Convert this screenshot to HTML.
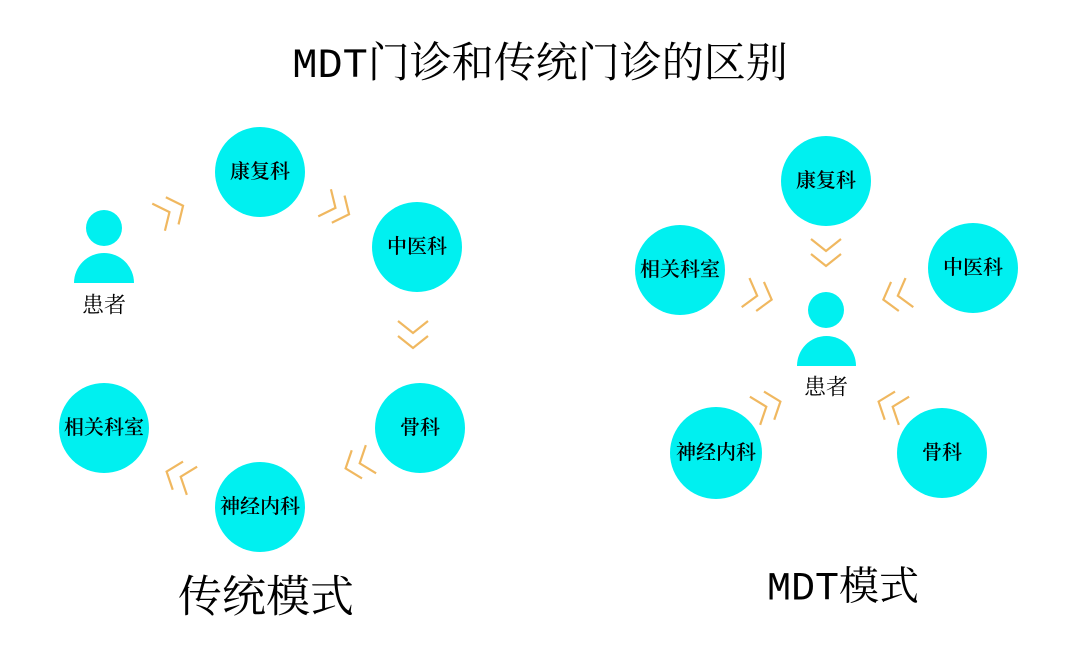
<!DOCTYPE html>
<html><head><meta charset="utf-8"><style>
html,body{margin:0;padding:0;background:#fff;}
svg{display:block}
text{font-family:"Liberation Serif","Noto Serif CJK SC",serif;fill:#000;text-anchor:middle;dominant-baseline:central}
.n{font-size:20px;font-weight:600}
</style></head><body>
<svg width="1080" height="661" viewBox="0 0 1080 661">
<defs>
<g id="ch" fill="none" stroke="#F0B860" stroke-width="2.2">
<polyline points="-17,-15 -5,0 -17,15"/>
<polyline points="-2,-15 10,0 -2,15"/>
</g>
</defs>
<text x="540" y="66" style="font-size:42px;font-family:'Liberation Mono','Noto Serif CJK SC',serif">MDT门诊和传统门诊的区别</text>

<g fill="#00F0F0">
<circle cx="260" cy="172" r="45"/><circle cx="417" cy="247" r="45"/>
<circle cx="420" cy="428" r="45"/><circle cx="260" cy="507" r="45"/>
<circle cx="104" cy="428" r="45"/>
<circle cx="826" cy="181" r="45"/><circle cx="680" cy="270" r="45"/>
<circle cx="973" cy="268" r="45"/><circle cx="716" cy="453" r="46"/>
<circle cx="942" cy="453" r="45"/>
<circle cx="104" cy="228" r="18"/><path d="M74,283 A30,30 0 0 1 134,283 Z"/>
<circle cx="826" cy="310" r="18"/><path d="M797,366 A29.5,30 0 0 1 856,366 Z"/>
</g>
<g class="n">
<text x="260" y="172">康复科</text><text x="417" y="247">中医科</text>
<text x="420" y="428">骨科</text><text x="260" y="507">神经内科</text>
<text x="104" y="428">相关科室</text>
<text x="826" y="181">康复科</text><text x="680" y="270">相关科室</text>
<text x="973" y="268">中医科</text><text x="716" y="453">神经内科</text>
<text x="942" y="453">骨科</text>
</g>
<text x="104" y="305" style="font-size:22px">患者</text>
<text x="826" y="387" style="font-size:22px">患者</text>

<use href="#ch" transform="translate(174,210) rotate(-25)"/>
<use href="#ch" transform="translate(340,210) rotate(25)"/>
<use href="#ch" transform="translate(413,338) rotate(90)"/>
<use href="#ch" transform="translate(355,465) rotate(160)"/>
<use href="#ch" transform="translate(176,475) rotate(200)"/>
<use href="#ch" transform="translate(826,256) rotate(90)"/>
<use href="#ch" transform="translate(762,297) rotate(15)"/>
<use href="#ch" transform="translate(893,297) rotate(165)"/>
<use href="#ch" transform="translate(771,405) rotate(-20)"/>
<use href="#ch" transform="translate(888,405) rotate(200)"/>

<text x="266" y="597" style="font-size:44px">传统模式</text>
<text x="843" y="590" style="font-size:40px;font-family:'Liberation Mono','Noto Serif CJK SC',serif">MDT模式</text>
</svg>
</body></html>
